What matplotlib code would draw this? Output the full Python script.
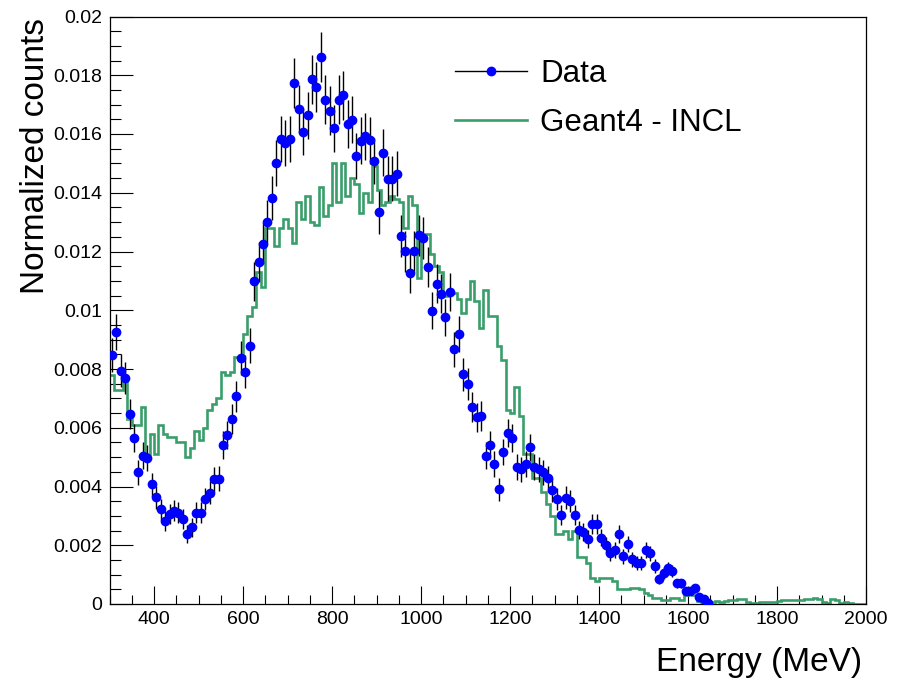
import numpy as np
import matplotlib
matplotlib.use("Agg")
import matplotlib.pyplot as plt
from matplotlib.lines import Line2D
from matplotlib.ticker import MultipleLocator, FuncFormatter

plt.rcParams['font.family'] = ['Liberation Sans', 'DejaVu Sans']

# 10 MeV bins, 300 -> 2000 MeV
bin_edges = np.arange(300, 2001, 10)

# Geant4 - INCL histogram (one value per bin, rows of 100 MeV)
geant_vals = np.array([
    0.0078, 0.0073, 0.0073, 0.0076, 0.0063, 0.0061, 0.0061, 0.0067, 0.0051, 0.0058,
    0.0051, 0.0061, 0.0058, 0.0057, 0.0057, 0.0055, 0.0055, 0.0050, 0.0053, 0.0059,
    0.0056, 0.0060, 0.0066, 0.0068, 0.0070, 0.0079, 0.0078, 0.0079, 0.0084, 0.0084,
    0.0092, 0.0098, 0.0101, 0.0113, 0.0108, 0.0128, 0.0128, 0.0122, 0.0128, 0.0131,
    0.0128, 0.0123, 0.0137, 0.0131, 0.0139, 0.0130, 0.0129, 0.0142, 0.0132, 0.0136,
    0.0150, 0.0137, 0.0150, 0.0139, 0.0145, 0.0143, 0.0133, 0.0140, 0.0137, 0.0149,
    0.0141, 0.0136, 0.0137, 0.0139, 0.0138, 0.0137, 0.0128, 0.0139, 0.0136, 0.0111,
    0.0126, 0.0126, 0.0119, 0.0115, 0.0113, 0.0105, 0.0107, 0.0106, 0.0104, 0.0099,
    0.0104, 0.0110, 0.0103, 0.0094, 0.0107, 0.0098, 0.0098, 0.0088, 0.0083, 0.0066,
    0.0065, 0.0074, 0.0064, 0.0051, 0.0051, 0.0043, 0.0043, 0.0038, 0.0034, 0.0030,
    0.0024, 0.0024, 0.0025, 0.0022, 0.0025, 0.0016, 0.0016, 0.0014, 0.0009, 0.0008,
    0.0009, 0.0009, 0.0009, 0.0008, 0.0005, 0.0005, 0.0005, 0.00055, 0.00055, 0.0005,
    0.00036, 0.0003, 0.0002, 0.0002, 0.00014, 0.00014, 0.0002, 0.0002, 0.00014, 0.0003,
    0.00036, 0.0003, 0.0001, 0.00008, 0.0001, 0.00008, 0.0001, 0.00006, 0.0001, 0.00014,
    0.00012, 0.00016, 0.00018, 0.00006, 0.00004, 0.00004, 0.00006, 0.00008, 0.00008, 0.00008,
    0.0001, 0.00012, 0.00014, 0.00012, 0.00012, 0.00014, 0.00016, 0.00018, 0.0002, 0.00016,
    0.00008, 0.00004, 0.00016, 0.00014, 0.00004, 0.00006, 0.00002, 0.0, 0.0, 0.0,
])

# measured data, bin centres 305 ... 1645 MeV
data_x = np.arange(305, 1650, 10)
data_vals = np.array([
    0.00847, 0.00926, 0.00794, 0.00770, 0.00646, 0.00566, 0.00448, 0.00505, 0.00498, 0.00407,
    0.00363, 0.00322, 0.00282, 0.00306, 0.00317, 0.00311, 0.00289, 0.00237, 0.00261, 0.00311,
    0.00311, 0.00358, 0.00379, 0.00424, 0.00427, 0.00541, 0.00575, 0.00630, 0.00707, 0.00838,
    0.00790, 0.00880, 0.01099, 0.01163, 0.01227, 0.01302, 0.01383, 0.01501, 0.01583, 0.01569,
    0.01583, 0.01773, 0.01684, 0.01607, 0.01663, 0.01786, 0.01760, 0.01862, 0.01717, 0.01680,
    0.01619, 0.01717, 0.01732, 0.01634, 0.01649, 0.01526, 0.01577, 0.01592, 0.01578, 0.01509,
    0.01334, 0.01537, 0.01448, 0.01448, 0.01465, 0.01253, 0.01201, 0.01127, 0.01201, 0.01255,
    0.01246, 0.01147, 0.00998, 0.01091, 0.01057, 0.00976, 0.01061, 0.00867, 0.00919, 0.00782,
    0.00748, 0.00671, 0.00635, 0.00639, 0.00505, 0.00541, 0.00476, 0.00391, 0.00517, 0.00583,
    0.00566, 0.00467, 0.00458, 0.00477, 0.00534, 0.00467, 0.00458, 0.00449, 0.00430, 0.00388,
    0.00358, 0.00303, 0.00362, 0.00350, 0.00303, 0.00252, 0.00245, 0.00221, 0.00273, 0.00273,
    0.00226, 0.00201, 0.00172, 0.00184, 0.00238, 0.00163, 0.00204, 0.00152, 0.00140, 0.00140,
    0.00184, 0.00172, 0.00129, 0.00085, 0.00104, 0.00121, 0.00112, 0.00070, 0.00070, 0.00044,
    0.00044, 0.00053, 0.00023, 0.00017, 0.00004,
])

# statistical errors (normalised histogram, ~25k entries)
n_entries = 25000
data_err = np.sqrt(data_vals / n_entries)

green = '#3a9e6b'

fig = plt.figure(figsize=(8.97, 6.86), dpi=100)
ax = fig.add_axes([109.5 / 897, 1 - 604 / 686, (866 - 109.5) / 897, (604 - 16.5) / 686])

ax.stairs(geant_vals, bin_edges, baseline=None, color=green, lw=1.9, zorder=2)
ax.errorbar(data_x, data_vals, yerr=data_err, fmt='o', color='blue', ms=6,
            ecolor='black', elinewidth=1.0, capsize=0, zorder=3)

ax.set_xlim(300, 2000)
ax.set_ylim(0, 0.02)
ax.xaxis.set_major_locator(MultipleLocator(200))
ax.xaxis.set_minor_locator(MultipleLocator(50))
ax.yaxis.set_major_locator(MultipleLocator(0.002))
ax.yaxis.set_minor_locator(MultipleLocator(0.0005))
ax.yaxis.set_major_formatter(FuncFormatter(lambda v, p: '%g' % round(v, 6)))

ax.tick_params(which='both', direction='in', top=False, right=False, width=0.8,
               labelsize=14, colors='black')
ax.tick_params(axis='x', which='major', length=12.7, pad=5)
ax.tick_params(axis='x', which='minor', length=6.3)
ax.tick_params(axis='y', which='major', length=16.3, pad=5)
ax.tick_params(axis='y', which='minor', length=8.2)
for sp in ax.spines.values():
    sp.set_linewidth(0.9)

fig.text(51 / 897, 1 - 18 / 686, 'Normalized counts', rotation=90,
         ha='right', va='top', fontsize=24)
fig.text(862 / 897, 1 - 671 / 686, 'Energy (MeV)', ha='right', va='baseline', fontsize=24)

handles = [
    Line2D([0], [0], color='black', lw=1, marker='o', mfc='blue', mec='blue', ms=6),
    Line2D([0], [0], color=green, lw=1.9),
]
ax.legend(handles, ['Data', 'Geant4 - INCL'], loc='upper left',
          bbox_to_anchor=(455 / 897, 1 - 59 / 686), bbox_transform=fig.transFigure,
          frameon=False, fontsize=22.5, handlelength=2.3, handletextpad=0.42,
          labelspacing=0.62, borderaxespad=0, borderpad=0)

fig.savefig('out.png', dpi=100)
